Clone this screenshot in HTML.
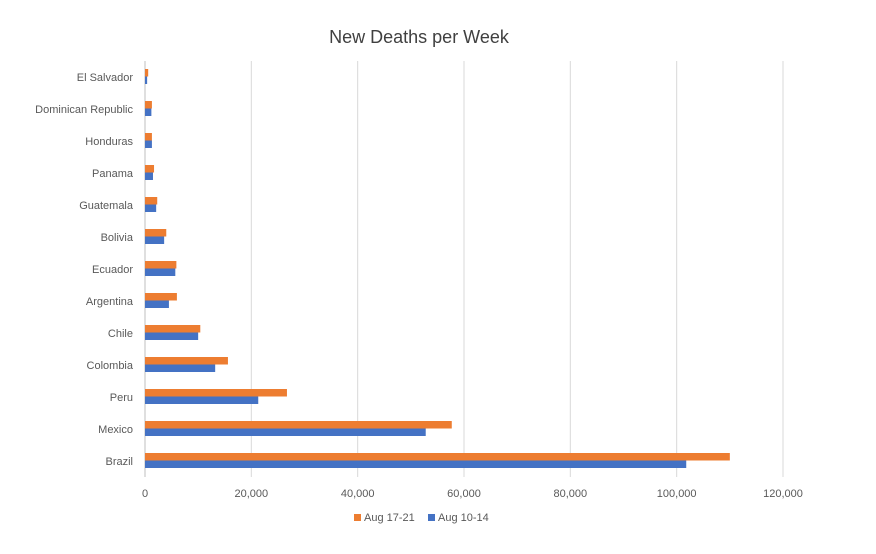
<!DOCTYPE html>
<html><head><meta charset="utf-8"><style>
body{margin:0;background:#fff;font-family:"Liberation Sans",sans-serif;}
svg text{font-family:"Liberation Sans",sans-serif;fill:#595959;}
</style></head><body>
<svg id="chart" width="876" height="549" viewBox="0 0 876 549">
<rect width="876" height="549" fill="#fff"/>
<text x="419" y="43" text-anchor="middle" font-size="18" style="fill:#404040">New Deaths per Week</text>
<g id="grid"></g><g id="bars"></g><g id="labels"></g>
<g>
<rect x="354" y="514" width="7" height="7" fill="#ED7D31"/>
<text x="364" y="521" font-size="11">Aug 17-21</text>
<rect x="428" y="514" width="7" height="7" fill="#4472C4"/>
<text x="438" y="521" font-size="11">Aug 10-14</text>
</g>
</svg>
<script>
const categories=["El Salvador","Dominican Republic","Honduras","Panama","Guatemala","Bolivia","Ecuador","Argentina","Chile","Colombia","Peru","Mexico","Brazil"];
const aug1721=[600,1300,1300,1700,2300,4000,5900,6000,10400,15600,26700,57700,110000];
const aug1014=[400,1200,1300,1500,2100,3600,5700,4500,10000,13200,21300,52800,101800];
const ticks=[0,20000,40000,60000,80000,100000,120000];
const ns="http://www.w3.org/2000/svg";
const x0=145,x1=783,xmax=120000,y0=61,rowH=32;
const xs=v=>x0+(v/xmax)*(x1-x0);
const ys=i=>y0+i*rowH;
const grid=document.getElementById('grid'),bars=document.getElementById('bars'),labels=document.getElementById('labels');
function mk(t,a,p){const e=document.createElementNS(ns,t);for(const k in a)e.setAttribute(k,a[k]);p.appendChild(e);return e;}
ticks.forEach(t=>{
 const l=mk('line',{x1:xs(t),x2:xs(t),y1:y0,y2:y0+categories.length*rowH,stroke:t===0?'#bfbfbf':'#d9d9d9','stroke-width':1},grid);
 
 
 const tx=mk('text',{x:xs(t),y:497,'text-anchor':'middle','font-size':11},labels);
 tx.textContent=t.toLocaleString('en-US');
 
 
});
categories.forEach((c,i)=>{
 const cy=ys(i)+rowH/2;
 const tx=mk('text',{x:133,y:cy+4,'text-anchor':'end','font-size':11},labels);
 tx.textContent=c;
 
 
 const o=mk('rect',{x:x0,y:cy-8,width:xs(aug1721[i])-x0,height:7.5,fill:'#ED7D31'},bars);
 
 
 const b=mk('rect',{x:x0,y:cy-0.5,width:xs(aug1014[i])-x0,height:7.5,fill:'#4472C4'},bars);
 
 
});
</script>
</body></html>
